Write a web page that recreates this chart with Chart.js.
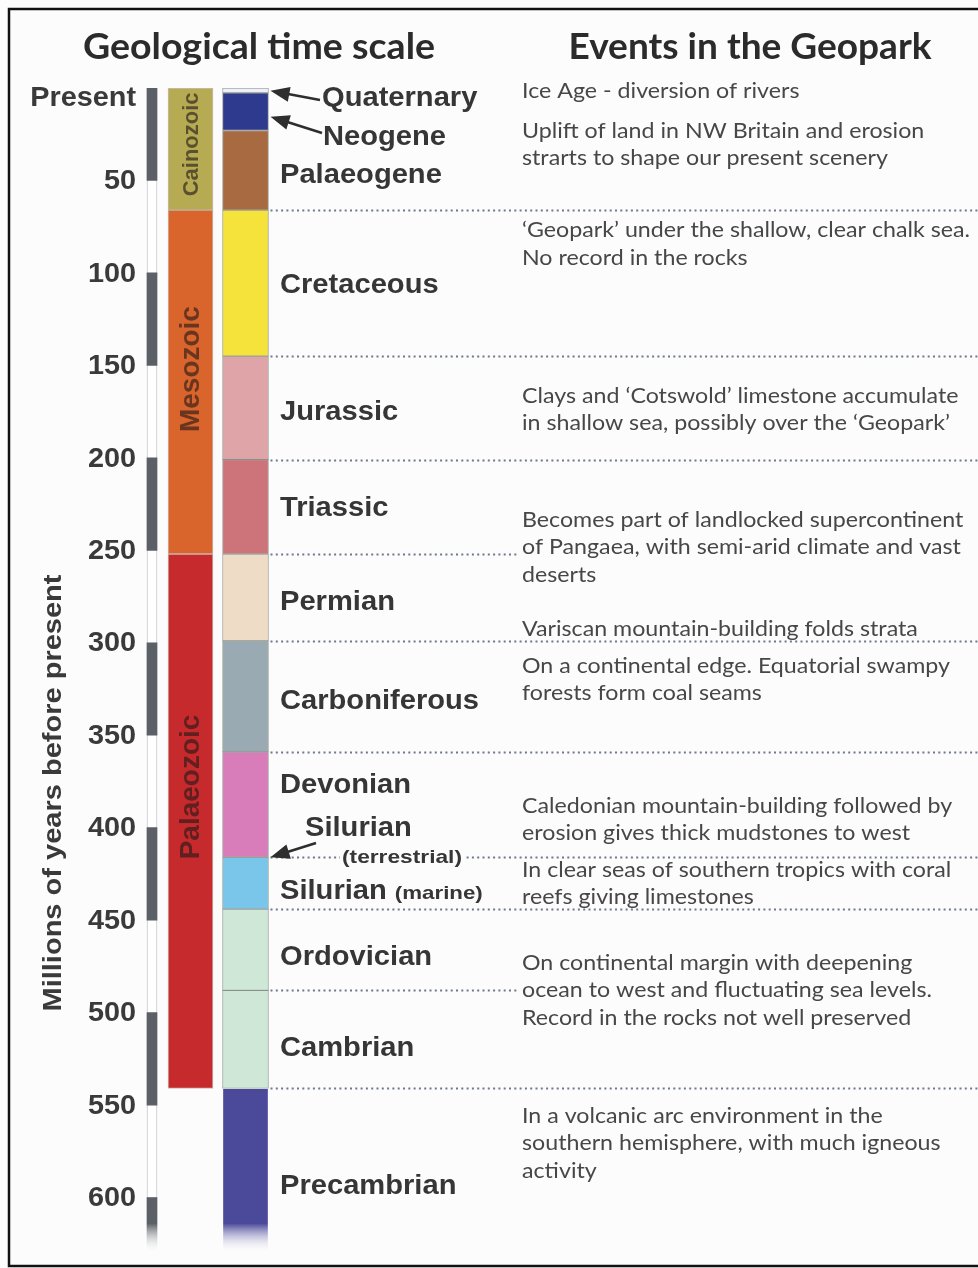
<!DOCTYPE html>
<html>
<head>
<meta charset="utf-8">
<script src="https://cdn.jsdelivr.net/npm/chart.js@4.4.1/dist/chart.umd.min.js"></script>
<style>
  html, body { margin: 0; padding: 0; background: #fcfcfc; }
</style>
</head>
<body>
<canvas id="geo" width="978" height="1268"></canvas>
<script>
// ── data (Ma = millions of years before present) ─────────────
const tickValues = [0, 50, 100, 150, 200, 250, 300, 350, 400, 450, 500, 550, 600];
const tickLabels = ['Present', '50', '100', '150', '200', '250', '300', '350', '400', '450', '500', '550', '600'];
const rulerBands = [[0, 50], [100, 150], [200, 250], [300, 350], [400, 450], [500, 550], [600, 630]];

const eraNames = ['Cainozoic', 'Mesozoic', 'Palaeozoic'];
const eraStart = [0, 66, 252];
const eraEnd   = [66, 252, 541];

const periodNames = ['Quaternary', 'Neogene', 'Palaeogene', 'Cretaceous', 'Jurassic', 'Triassic', 'Permian',
                     'Carboniferous', 'Devonian', 'Silurian', 'Ordovician', 'Cambrian', 'Precambrian'];
const periodStart = [0, 2.6, 23, 66, 145, 201, 252, 299, 359, 416, 444, 488, 541];
const periodEnd   = [2.6, 23, 66, 145, 201, 252, 299, 359, 416, 444, 488, 541, 630];

const events = [
  ['Ice Age - diversion of rivers'],
  ['Uplift of land in NW Britain and erosion', 'strarts to shape our present scenery'],
  ['\u2018Geopark\u2019 under the shallow, clear chalk sea.', 'No record in the rocks'],
  ['Clays and \u2018Cotswold\u2019 limestone accumulate', 'in shallow sea, possibly over the \u2018Geopark\u2019'],
  ['Becomes part of landlocked supercontinent', 'of Pangaea, with semi-arid climate and vast', 'deserts'],
  ['Variscan mountain-building folds strata'],
  ['On a continental edge. Equatorial swampy', 'forests form coal seams'],
  ['Caledonian mountain-building followed by', 'erosion gives thick mudstones to west'],
  ['In clear seas of southern tropics with coral', 'reefs giving limestones'],
  ['On continental margin with deepening', 'ocean to west and fluctuating sea levels.', 'Record in the rocks not well preserved'],
  ['In a volcanic arc environment in the', 'southern hemisphere, with much igneous', 'activity']
];

// ── layout / style (kept apart from the data) ────────────────
const AGE_MAX = 630;
const COL = { ruler: 12, era: 50.5, period: 105.5 };       // bar centres, px from plot left
const eraColors = ['#b6aa52', '#d9642c', '#c72a2c'];
const periodColors = ['#eef0f6', '#2d3a8e', '#a86a40', '#f5e23a', '#dea4a8', '#cc747a', '#eedcc6',
                      '#9aaab2', '#d87cba', '#7ac6ea', '#cfe7d6', '#cfe7d6', '#4b4999'];
const eraLabelAt = [30.5, 152, 378];
const eraLabelSize = [22, 28, 28];
const labelSpots = {   // [x px, centre Ma]
  Quaternary: [322, 5], Neogene: [323, 26], Palaeogene: [280, 46.5], Cretaceous: [280, 106],
  Jurassic: [280, 175], Triassic: [280, 227], Permian: [280, 277.5], Carboniferous: [280, 331],
  Devonian: [280, 376.5], Silurian: [280, 434], Ordovician: [280, 469.5], Cambrian: [280, 519],
  Precambrian: [280, 593.5]
};
const eventAt = [1.4, 23, 77, 166.3, 233.4, 292.3, 312.4, 388.1, 422.7, 473, 555.7];
// dotted boundaries: [age, right end px]
const dotted = [[66, 978], [145, 978], [201, 978], [252, 519], [299, 978], [359, 978],
                [416, 978], [444, 978], [488, 519], [541, 978]];
const SANS = '"Liberation Sans", Arial, sans-serif';

function fade(ctx, color, from, to) {
  const c = ctx.chart, y = c.scales && c.scales.y;
  if (!c.chartArea || !y) return color;
  const g = c.ctx.createLinearGradient(0, y.getPixelForValue(from), 0, y.getPixelForValue(to));
  g.addColorStop(0, color);
  g.addColorStop(1, 'rgba(255,255,255,0)');
  return g;
}

function arrow(ctx, x1, y1, x2, y2) {
  const a = Math.atan2(y2 - y1, x2 - x1), L = 19, W = 7.5;
  ctx.beginPath();
  ctx.moveTo(x1, y1);
  ctx.lineTo(x2 - Math.cos(a) * L * 0.8, y2 - Math.sin(a) * L * 0.8);
  ctx.stroke();
  ctx.beginPath();
  ctx.moveTo(x2, y2);
  ctx.lineTo(x2 - Math.cos(a) * L - Math.sin(a) * W, y2 - Math.sin(a) * L + Math.cos(a) * W);
  ctx.lineTo(x2 - Math.cos(a) * L + Math.sin(a) * W, y2 - Math.sin(a) * L - Math.cos(a) * W);
  ctx.closePath();
  ctx.fill();
}

// text drawn with a horizontal stretch k (or stretched to targetW)
function drawText(ctx, text, x, y, font, opts) {
  opts = opts || {};
  ctx.save();
  ctx.font = font;
  const w = ctx.measureText(text).width;
  const k = opts.width ? opts.width / w : (opts.k || 1);
  let left = x;
  if (opts.align === 'center') left = x - w * k / 2;
  else if (opts.align === 'right') left = x - w * k;
  ctx.translate(left, y);
  ctx.scale(k, 1);
  ctx.textAlign = 'left';
  ctx.fillText(text, 0, 0);
  ctx.restore();
  return w * k;
}

const decor = {
  id: 'decor',
  beforeDraw(chart) {
    const ctx = chart.ctx;
    ctx.save();
    ctx.fillStyle = '#fcfcfc';
    ctx.fillRect(0, 0, chart.width, chart.height);
    ctx.restore();
  },
  beforeDatasetsDraw(chart) {
    const ctx = chart.ctx, y = chart.scales.y, x = chart.scales.x;
    const x0 = x.getPixelForValue(COL.period) + 25;
    ctx.save();
    ctx.strokeStyle = 'rgba(95,105,130,0.9)';
    ctx.lineWidth = 2.2;
    ctx.setLineDash([2, 3.3]);
    dotted.forEach(([age, xEnd]) => {
      const py = Math.round(y.getPixelForValue(age)) + 0.5;
      ctx.beginPath();
      ctx.moveTo(x0, py);
      ctx.lineTo(xEnd, py);
      ctx.stroke();
    });
    ctx.restore();
  },
  afterDatasetsDraw(chart) {
    const ctx = chart.ctx, y = chart.scales.y, x = chart.scales.x;
    ctx.save();
    ctx.textBaseline = 'middle';

    // titles
    ctx.fillStyle = '#2b2b2b';
    drawText(ctx, 'Geological time scale', 259, 47, 'bold 36px Lato', { width: 352, align: 'center' });
    drawText(ctx, 'Events in the Geopark', 750, 47, 'bold 36px Lato', { width: 363, align: 'center' });

    // age ticks
    ctx.fillStyle = '#3a3a3a';
    tickValues.forEach((v, i) => {
      const py = y.getPixelForValue(v) + (i === 0 ? 10 : 1);
      drawText(ctx, tickLabels[i], 136, py, 'bold 28px ' + SANS, { k: 1.03, align: 'right' });
    });

    // axis title
    ctx.save();
    ctx.translate(53, 793);
    ctx.rotate(-Math.PI / 2);
    drawText(ctx, 'Millions of years before present', 0, 1, 'bold 26px ' + SANS, { width: 437, align: 'center' });
    ctx.restore();

    // era names
    eraNames.forEach((n, i) => {
      ctx.save();
      ctx.translate(x.getPixelForValue(COL.era), y.getPixelForValue(eraLabelAt[i]));
      ctx.rotate(-Math.PI / 2);
      ctx.fillStyle = 'rgba(35,25,25,0.62)';
      drawText(ctx, n, 0, 1, 'bold ' + eraLabelSize[i] + 'px ' + SANS, { align: 'center' });
      ctx.restore();
    });

    // period names
    ctx.fillStyle = '#363636';
    periodNames.forEach(n => {
      const [lx, at] = labelSpots[n];
      const w = drawText(ctx, n, lx, y.getPixelForValue(at) + 1, 'bold 28px ' + SANS, { k: 1.04 });
      if (n === 'Silurian') {
        drawText(ctx, '(marine)', lx + w + 8, y.getPixelForValue(at) + 3, 'bold 19px ' + SANS, { width: 88 });
      }
    });
    // Silurian (terrestrial) annotation
    drawText(ctx, 'Silurian', 305, y.getPixelForValue(400) + 1, 'bold 28px ' + SANS, { k: 1.04 });
    const ty = y.getPixelForValue(416);
    ctx.fillStyle = '#fcfcfc';
    ctx.fillRect(340, ty - 8, 124, 14);
    ctx.fillStyle = '#363636';
    drawText(ctx, '(terrestrial)', 342, ty, 'bold 19px ' + SANS, { width: 120 });

    // arrows
    ctx.strokeStyle = '#2e2e2e';
    ctx.fillStyle = '#2e2e2e';
    ctx.lineWidth = 2.5;
    const px = x.getPixelForValue(COL.period) + 25;
    arrow(ctx, 320, 100, px, y.getPixelForValue(1.5));
    arrow(ctx, 322, 133, px, y.getPixelForValue(15.5));
    arrow(ctx, 316, 843, px, y.getPixelForValue(416));

    // events
    ctx.fillStyle = '#474747';
    events.forEach((lines, i) => {
      const top = y.getPixelForValue(eventAt[i]);
      lines.forEach((t, j) => drawText(ctx, t, 522, top + j * 27.7, '22px Lato', { k: 1.055 }));
    });

    // frame
    ctx.strokeStyle = '#111';
    ctx.lineWidth = 2.5;
    ctx.strokeRect(9, 9, 975, 1257);
    ctx.restore();
  }
};

new Chart(document.getElementById('geo'), {
  type: 'bar',
  data: {
    datasets: [
      {
        label: 'ruler',
        order: 3,
        data: [{ x: COL.ruler, y: [0, AGE_MAX] }],
        backgroundColor: ctx => fade(ctx, '#ffffff', 600, AGE_MAX),
        borderColor: ctx => fade(ctx, '#c3c6cc', 600, AGE_MAX),
        borderWidth: 1,
        barThickness: 10
      },
      {
        label: 'ruler bands',
        order: 2,
        data: rulerBands.map(b => ({ x: COL.ruler, y: b })),
        backgroundColor: ctx => ctx.dataIndex === rulerBands.length - 1 ? fade(ctx, '#5b5f66', 614, AGE_MAX) : '#5b5f66',
        borderWidth: 0,
        barThickness: 10
      },
      {
        label: 'eras',
        order: 1,
        data: eraNames.map((n, i) => ({ x: COL.era, y: [eraStart[i], eraEnd[i]] })),
        backgroundColor: eraColors,
        borderColor: 'rgba(90,40,20,0.3)',
        borderWidth: 1,
        barThickness: 45
      },
      {
        label: 'periods',
        order: 0,
        data: periodNames.map((n, i) => ({ x: COL.period, y: [periodStart[i], periodEnd[i]] })),
        backgroundColor: ctx => ctx.dataIndex === periodNames.length - 1 ? fade(ctx, periodColors[ctx.dataIndex], 614, AGE_MAX) : periodColors[ctx.dataIndex],
        borderColor: ctx => ctx.dataIndex === periodNames.length - 1 ? 'rgba(0,0,0,0)' : 'rgba(60,70,60,0.45)',
        borderWidth: 1,
        barThickness: 46
      }
    ]
  },
  options: {
    responsive: false,
    animation: false,
    devicePixelRatio: 1,
    layout: { padding: { top: 88, bottom: 15, left: 0, right: 0 } },
    datasets: { bar: { grouped: false, borderSkipped: false } },
    plugins: { legend: { display: false }, tooltip: { enabled: false } },
    scales: {
      x: { type: 'linear', display: false, offset: false, min: 0, max: 838 },
      y: {
        reverse: true,
        min: 0,
        max: AGE_MAX,
        grid: { display: false },
        border: { display: false },
        ticks: { display: false },
        afterBuildTicks: s => { s.ticks = tickValues.map(v => ({ value: v })); },
        afterFit: s => { s.width = 140; }
      }
    }
  },
  plugins: [decor]
});
</script>
</body>
</html>
